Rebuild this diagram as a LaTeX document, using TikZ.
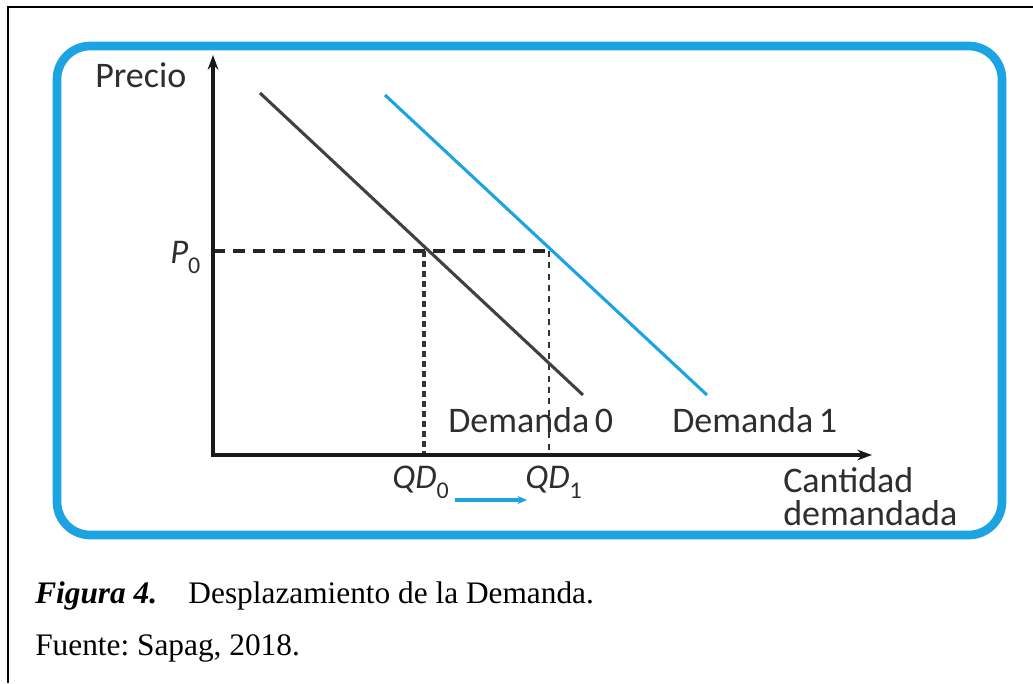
\documentclass[tikz,border=0pt]{standalone}
\usepackage{fontspec}
\setmainfont{Liberation Serif}
\newfontfamily\diafont{Carlito}
\usetikzlibrary{arrows.meta}
\definecolor{boxblue}{RGB}{27,163,226}
\definecolor{curvegray}{RGB}{64,64,64}
\frenchspacing
\begin{document}
\begin{tikzpicture}[x=0.75pt,y=-0.75pt,
  lbl/.style={inner sep=0pt,font=\diafont\fontsize{27}{27}\selectfont,text=black!82},
  ital/.style={inner sep=0pt,font=\diafont\itshape\fontsize{26}{26}\selectfont,text=black!82},
  axis/.style={line width=3pt,black!90,{Stealth[length=11pt,width=8pt]}-{Stealth[length=11pt,width=8pt]}},
  dem0/.style={line width=2.3pt,curvegray},
  dem1/.style={line width=2.3pt,boxblue},
  guideh/.style={line width=2.6pt,black!85,dash pattern=on 9pt off 6pt},
  guidev0/.style={line width=3pt,black!80,dash pattern=on 4.5pt off 3pt},
  guidev1/.style={line width=1.5pt,black!80,dash pattern=on 4.5pt off 4pt},
  captxt/.style={inner sep=0pt,font=\fontsize{23.5}{28}\selectfont}]
\useasboundingbox (0,0) rectangle (1033,683);
\fill[white] (0,0) rectangle (1033,683);
% outer frame
\draw[line width=1.8pt] (1033,7) -- (8,7) -- (8,683);
% blue frame
\draw[boxblue,line width=6.5pt,rounded corners=25pt] (57,46) rectangle (1002,535);
% key points
\coordinate (Ytop) at (213,55);
\coordinate (O) at (213,455);
\coordinate (Xend) at (872,455);
\coordinate (D0a) at (260,93);
\coordinate (D0b) at (583,395);
\coordinate (D1a) at (385,95);
\coordinate (D1b) at (707,395);
\coordinate (P0y) at (213,251);
\coordinate (E0) at (424,251);
\coordinate (E1) at (549,251);
\coordinate (Q0) at (424,455);
\coordinate (Q1) at (549,455);
\coordinate (SA) at (455,500);
\coordinate (SB) at (527,500);
% guides
\draw[guideh] (P0y) -- (E1);
\draw[guidev0] (E0) -- (Q0);
\draw[guidev1] (E1) -- (Q1);
% demand curves
\draw[dem0] (D0a) -- (D0b);
\draw[dem1] (D1a) -- (D1b);
% axes
\draw[axis] (Ytop) -- (O) -- (Xend);
% shift arrow
\draw[boxblue,line width=2.3pt,-{Stealth[length=7pt,width=6pt]}] (SA) -- (SB);
% labels
\node[lbl,anchor=base west] (precio) at (95,87) {Precio};
\node[ital,anchor=base west] (p0) at (170,263) {P\raisebox{-0.3em}{\fontsize{18}{18}\selectfont\upshape 0}};
\node[ital,anchor=base west] (qd0) at (392,488) {QD\raisebox{-0.3em}{\fontsize{18}{18}\selectfont\upshape 0}};
\node[ital,anchor=base west] (qd1) at (525,488) {QD\raisebox{-0.3em}{\fontsize{18}{18}\selectfont\upshape 1}};
\node[lbl,anchor=base west] (dem0lbl) at (448,432) {Demanda\hspace{0.15em}0};
\node[lbl,anchor=base west] (dem1lbl) at (672,432) {Demanda\hspace{0.15em}1};
\node[lbl,anchor=base west] (cant) at (783,492) {Cantidad};
\node[lbl,anchor=base west] (demd) at (783,525) {demandada};
% caption
\node[captxt,anchor=base west] (fig) at (35,603) {\textbf{\textit{Figura 4.}}\hspace{1em}Desplazamiento de la Demanda.};
\node[captxt,anchor=base west] (src) at (35,655) {Fuente: Sapag, 2018.};
\end{tikzpicture}
\end{document}
